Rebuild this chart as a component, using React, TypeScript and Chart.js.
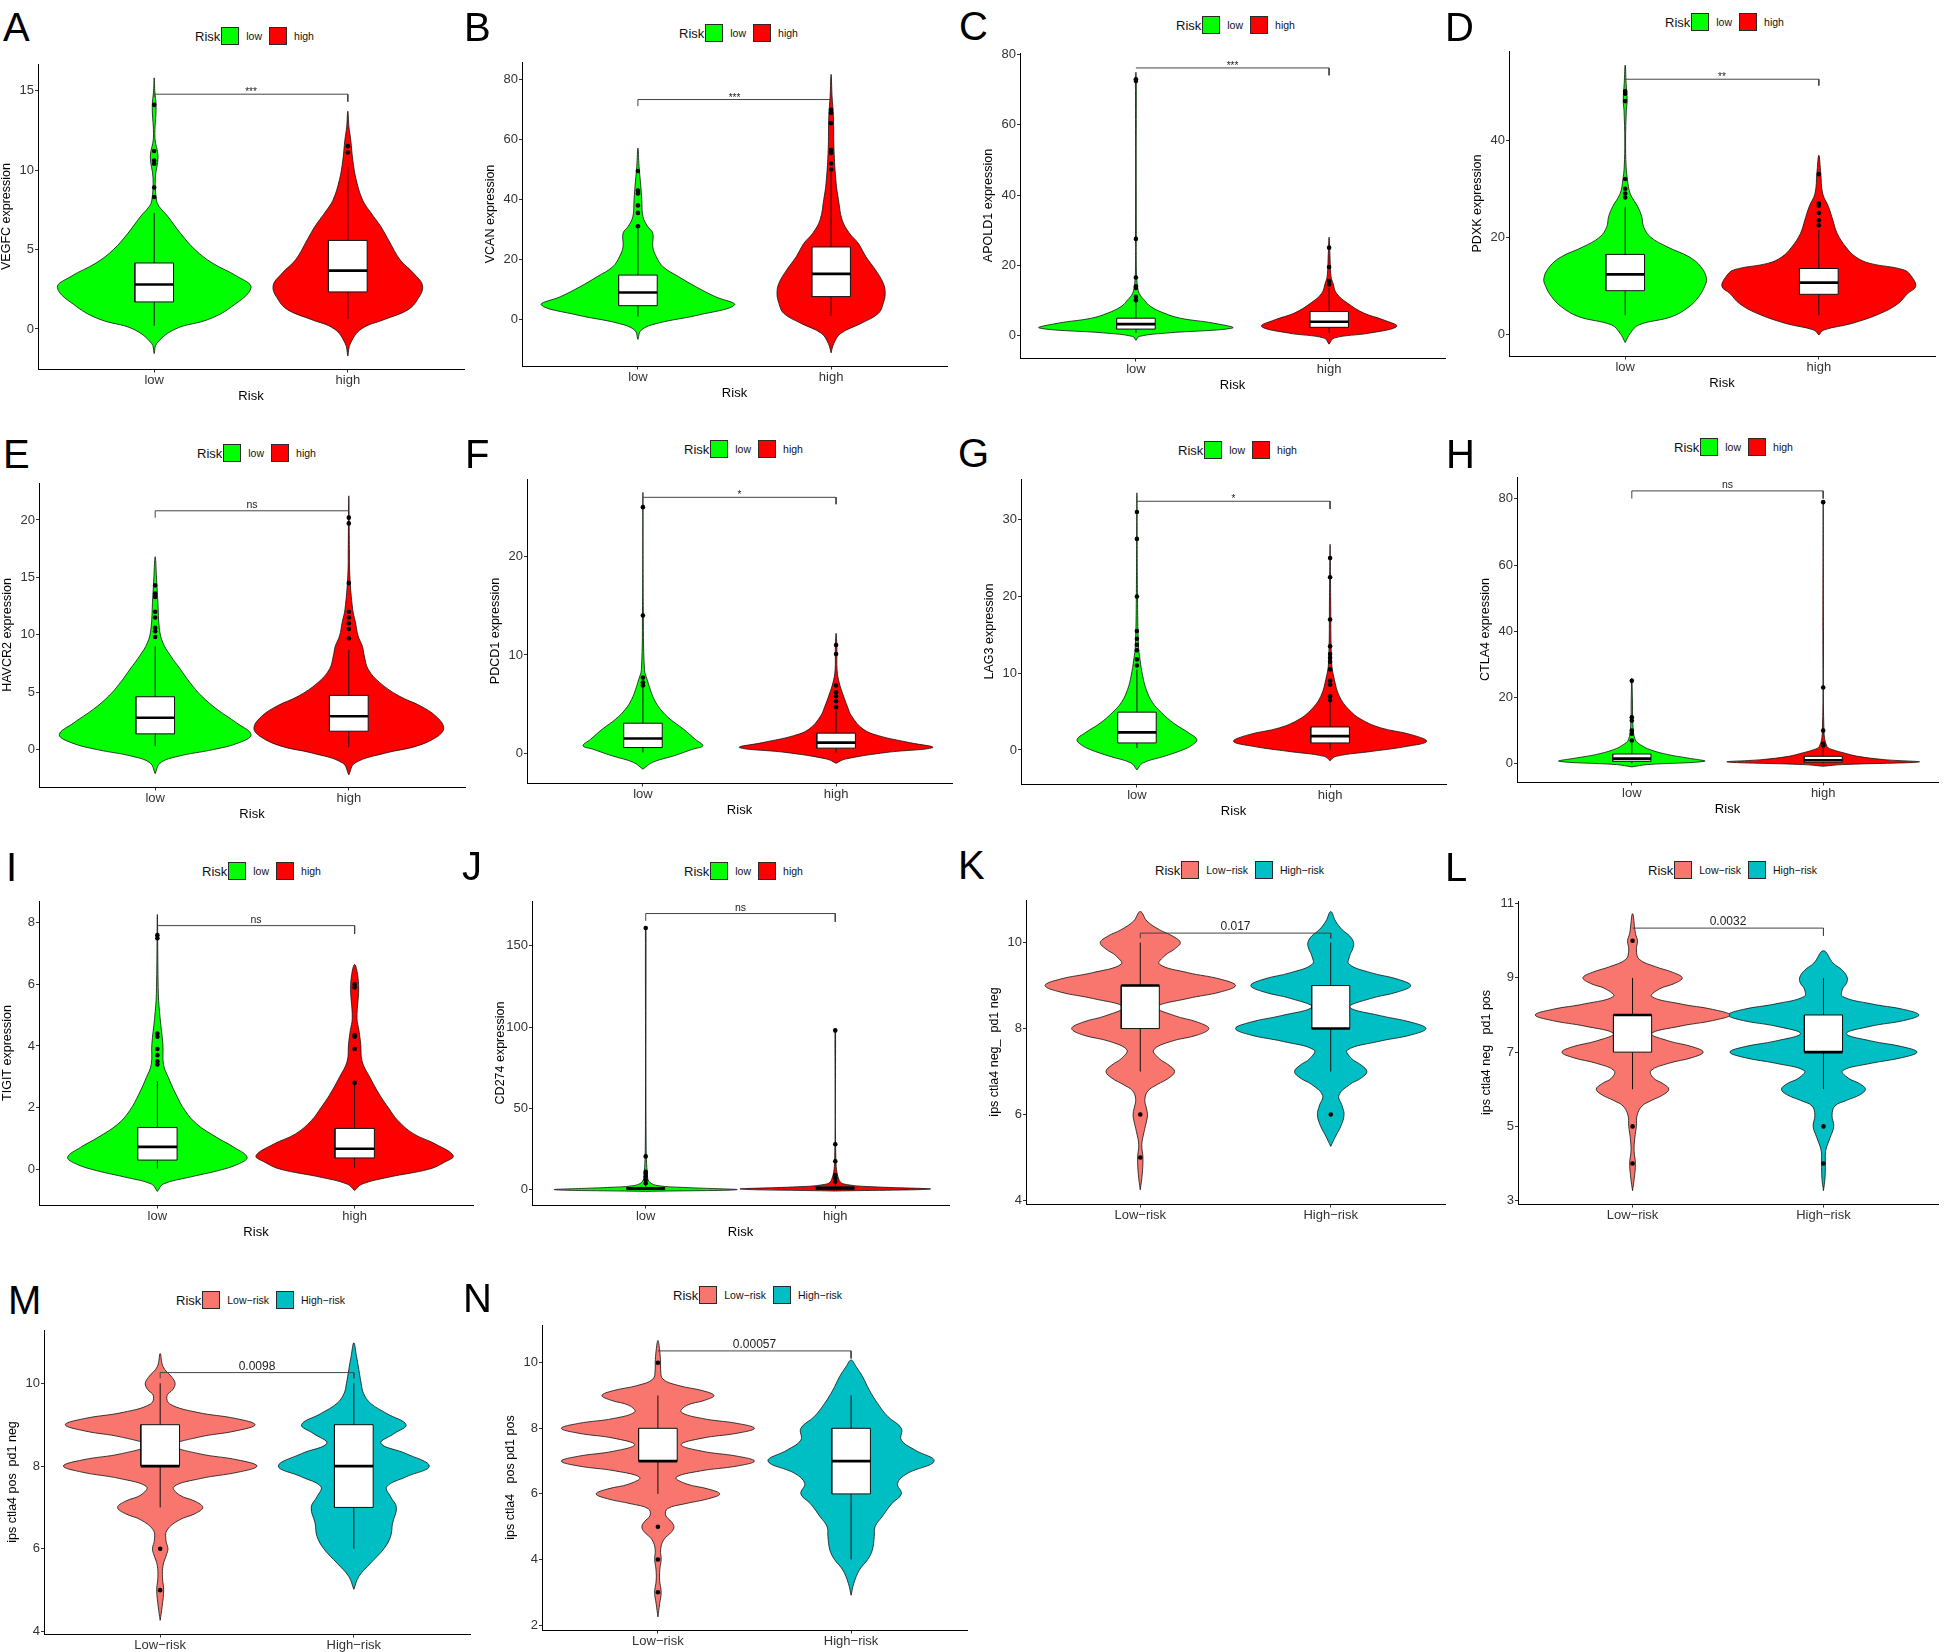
import React, { useEffect, useRef } from 'react';
import { Chart, registerables } from 'chart.js';
Chart.register(...registerables);

const FONT = '"Liberation Sans", Arial, Helvetica, sans-serif';
Chart.defaults.font.family = FONT;

type Prof = [number, number][];
type Box5 = [number, number, number, number, number];

// ---------- categories ----------
const RISK_CATS = ['low', 'high'];
const IPS_CATS = ['Low\u2212risk', 'High\u2212risk'];
const GENE_COLORS: [string, string] = ['#00FF00', '#FF0000'];
const IPS_COLORS: [string, string] = ['#F8766D', '#00BFC4'];

// ---------- violin profiles: [value, half-width in category units] ----------
const A_LOW_VIOLIN: Prof = [[-1.55,0],[-0.9,0.014],[0,0.11],[0.6,0.28],[1.4,0.4],[2.6,0.5],[3.3,0.43],[4.15,0.3],[5,0.21],[6,0.137],[7.1,0.069],[7.7,0.026],[8.1,0.012],[9.5,0.006],[10.85,0.02],[12,0.004],[14,0.01],[15,0.003],[15.8,0]];
const A_HIGH_VIOLIN: Prof = [[-1.7,0],[-0.9,0.014],[0,0.07],[0.6,0.19],[1.2,0.31],[1.85,0.36],[2.7,0.386],[3.5,0.34],[4.35,0.27],[5.6,0.21],[6.45,0.17],[7.3,0.12],[8.1,0.077],[9.4,0.043],[10.6,0.026],[11.9,0.015],[12.7,0.006],[13.7,0]];
const B_LOW_VIOLIN: Prof = [[-6.8,0],[-3.7,0.017],[-1.45,0.1],[1.3,0.31],[4.7,0.5],[7.5,0.4],[10.8,0.3],[14.2,0.21],[17.5,0.13],[20.9,0.095],[24.2,0.077],[28.7,0.077],[31,0.05],[34.3,0.026],[39.9,0.02],[44.4,0.015],[51,0.006],[57.2,0]];
const B_HIGH_VIOLIN: Prof = [[-11.3,0],[-8.2,0.014],[-4.8,0.05],[-1.45,0.155],[1.9,0.245],[5.25,0.27],[8.6,0.28],[12,0.27],[16.4,0.23],[20.9,0.18],[25.4,0.14],[28.7,0.095],[33.2,0.057],[40,0.038],[45.5,0.026],[56.6,0.015],[67.8,0.012],[74.5,0.005],[81.8,0]];
const C_LOW_VIOLIN: Prof = [[-1.4,0],[-0.3,0.017],[0.66,0.155],[2.1,0.5],[3.5,0.4],[4.9,0.23],[6.35,0.146],[8.2,0.077],[10.1,0.043],[12,0.017],[14.9,0.006],[20,0.002],[30,0.002],[50,0.0015],[73,0.002],[75,0]];
const C_HIGH_VIOLIN: Prof = [[-2.5,0],[-0.76,0.026],[0.66,0.21],[2.56,0.35],[4.45,0.28],[6.35,0.18],[9.2,0.095],[12,0.038],[14.9,0.02],[16.8,0.01],[23.4,0.004],[28,0]];
const D_LOW_VIOLIN: Prof = [[-1.6,0],[0.27,0.026],[2,0.07],[3.7,0.24],[5.75,0.33],[7.8,0.38],[9.9,0.41],[11.6,0.42],[14,0.39],[16,0.33],[18,0.22],[20.1,0.13],[22.2,0.095],[24.2,0.086],[26.3,0.065],[29,0.026],[31.8,0.012],[34.5,0.005],[40,0.002],[46,0.006],[48.2,0.01],[51.6,0.005],[55.4,0]];
const D_HIGH_VIOLIN: Prof = [[-0.07,0],[0.96,0.026],[2.3,0.17],[4.4,0.32],[6.4,0.41],[8.5,0.46],[9.9,0.5],[11.9,0.48],[13.3,0.44],[14.7,0.26],[16,0.19],[18,0.14],[20.8,0.095],[23.6,0.072],[26.3,0.05],[29,0.02],[33.2,0.01],[36.9,0]];
const E_LOW_VIOLIN: Prof = [[-2.1,0],[-1.17,0.026],[-0.58,0.12],[0,0.3],[0.58,0.43],[1.3,0.495],[2.33,0.42],[3.5,0.32],[4.66,0.24],[5.83,0.18],[7,0.13],[8.16,0.08],[9.3,0.04],[10.5,0.022],[12.8,0.014],[14.6,0.008],[16.8,0]];
const E_HIGH_VIOLIN: Prof = [[-2.2,0],[-1.17,0.032],[-0.3,0.19],[0.3,0.35],[1.17,0.46],[1.9,0.49],[2.9,0.45],[3.8,0.37],[4.66,0.26],[5.83,0.16],[7,0.1],[8.16,0.08],[9,0.07],[9.9,0.048],[11.1,0.034],[12.2,0.02],[15.2,0.005],[17.5,0.003],[22.1,0]];
const F_LOW_VIOLIN: Prof = [[-1.6,0],[-0.9,0.05],[-0.24,0.16],[0.44,0.26],[0.78,0.31],[1.45,0.27],[2.47,0.21],[3.5,0.14],[4.5,0.09],[5.5,0.058],[6.5,0.038],[7.5,0.022],[8.5,0.008],[15,0.002],[26.5,0]];
const F_HIGH_VIOLIN: Prof = [[-1.0,0],[-0.57,0.048],[0.1,0.26],[0.6,0.5],[1.1,0.38],[1.8,0.22],[2.47,0.14],[3.8,0.08],[4.8,0.058],[5.85,0.038],[7.2,0.016],[8.5,0.005],[10.6,0.004],[12.2,0]];
const G_LOW_VIOLIN: Prof = [[-2.6,0],[-1.7,0.03],[-0.83,0.14],[0.04,0.24],[0.7,0.29],[1.35,0.31],[2.2,0.27],[3.5,0.19],[4.85,0.128],[6.2,0.08],[7.9,0.048],[9.65,0.03],[11.8,0.016],[13.6,0.008],[20,0.003],[33.5,0]];
const G_HIGH_VIOLIN: Prof = [[-1.4,0],[-0.83,0.03],[-0.17,0.22],[0.48,0.4],[1.13,0.5],[2.0,0.42],[2.9,0.26],[4.0,0.16],[5.3,0.096],[7.0,0.048],[9.2,0.022],[11.4,0.008],[20,0.003],[26.8,0]];
const H_LOW_VIOLIN: Prof = [[-1.0,0],[-0.3,0.08],[0.7,0.38],[1.7,0.29],[2.7,0.19],[4.2,0.096],[5.7,0.045],[7.2,0.018],[11.3,0.006],[20,0.003],[25.8,0]];
const H_HIGH_VIOLIN: Prof = [[-0.8,0],[-0.3,0.1],[0.5,0.5],[1.2,0.32],[2.2,0.18],[3.2,0.11],[4.2,0.05],[5.2,0.02],[10,0.004],[40,0.0015],[79,0]];
const I_LOW_VIOLIN: Prof = [[-0.73,0],[-0.49,0.03],[-0.27,0.16],[-0.05,0.31],[0.16,0.41],[0.38,0.455],[0.7,0.39],[1.03,0.3],[1.46,0.2],[1.9,0.14],[2.43,0.094],[2.97,0.056],[3.4,0.031],[4.05,0.028],[4.9,0.014],[5.7,0.005],[8.27,0]];
const I_HIGH_VIOLIN: Prof = [[-0.7,0],[-0.49,0.038],[-0.27,0.17],[0,0.38],[0.22,0.455],[0.43,0.5],[0.81,0.41],[1.14,0.3],[1.57,0.22],[2,0.17],[2.43,0.125],[2.97,0.078],[3.5,0.038],[4.05,0.031],[4.5,0.022],[4.9,0.012],[6,0.02],[6.65,0]];
const J_LOW_VIOLIN: Prof = [[-1,0],[0,0.48],[1.4,0.2],[2.5,0.065],[4.5,0.022],[7.6,0.01],[30,0.002],[161,0.0015],[162,0]];
const J_HIGH_VIOLIN: Prof = [[-0.8,0],[0.4,0.5],[1.8,0.2],[3.1,0.065],[5.5,0.022],[20,0.003],[98,0.0015],[99,0]];
const K_LOW_VIOLIN: Prof = [[4.25,0],[4.6,0.01],[5.0,0.014],[5.3,0.008],[5.6,0.02],[5.85,0.033],[6.0,0.038],[6.15,0.032],[6.35,0.024],[6.55,0.04],[6.7,0.09],[6.85,0.15],[7.0,0.18],[7.15,0.15],[7.3,0.1],[7.5,0.07],[7.7,0.16],[7.85,0.3],[8.0,0.36],[8.15,0.3],[8.3,0.18],[8.5,0.087],[8.7,0.25],[8.85,0.42],[9.0,0.5],[9.15,0.42],[9.3,0.25],[9.5,0.1],[9.7,0.13],[9.85,0.18],[10.0,0.21],[10.15,0.17],[10.3,0.1],[10.5,0.035],[10.72,0]];
const K_HIGH_VIOLIN: Prof = [[5.26,0],[5.5,0.026],[5.75,0.055],[6.0,0.07],[6.2,0.06],[6.45,0.043],[6.7,0.1],[6.85,0.16],[7.0,0.19],[7.15,0.16],[7.3,0.11],[7.5,0.087],[7.7,0.25],[7.85,0.42],[8.0,0.5],[8.15,0.42],[8.3,0.26],[8.5,0.1],[8.7,0.21],[8.85,0.35],[9.0,0.42],[9.15,0.35],[9.3,0.21],[9.5,0.096],[9.7,0.1],[9.85,0.115],[10.0,0.12],[10.15,0.1],[10.3,0.06],[10.5,0.025],[10.72,0]];
const L_LOW_VIOLIN: Prof = [[3.27,0],[3.6,0.009],[4.0,0.015],[4.35,0.008],[4.7,0.012],[5.0,0.02],[5.3,0.024],[5.55,0.05],[5.7,0.1],[5.85,0.16],[6.0,0.19],[6.15,0.16],[6.3,0.11],[6.5,0.096],[6.7,0.19],[6.85,0.31],[7.0,0.37],[7.15,0.31],[7.3,0.19],[7.5,0.1],[7.7,0.25],[7.85,0.42],[8.0,0.51],[8.15,0.42],[8.3,0.25],[8.5,0.1],[8.7,0.14],[8.85,0.22],[9.0,0.26],[9.15,0.21],[9.3,0.12],[9.5,0.035],[9.75,0.02],[10.0,0.026],[10.2,0.015],[10.73,0]];
const L_HIGH_VIOLIN: Prof = [[3.27,0],[3.6,0.008],[4.0,0.01],[4.35,0.012],[4.7,0.035],[5.0,0.054],[5.3,0.045],[5.55,0.06],[5.7,0.12],[5.85,0.19],[6.0,0.22],[6.15,0.19],[6.3,0.13],[6.5,0.1],[6.7,0.25],[6.85,0.41],[7.0,0.49],[7.15,0.41],[7.3,0.25],[7.5,0.12],[7.7,0.25],[7.85,0.42],[8.0,0.5],[8.15,0.42],[8.3,0.25],[8.5,0.1],[8.7,0.1],[8.85,0.12],[9.0,0.125],[9.2,0.1],[9.4,0.05],[9.73,0]];
const M_LOW_VIOLIN: Prof = [[4.27,0],[4.6,0.01],[5.0,0.018],[5.3,0.012],[5.6,0.015],[5.85,0.032],[6.0,0.04],[6.2,0.03],[6.45,0.035],[6.7,0.1],[6.85,0.18],[7.0,0.22],[7.15,0.18],[7.3,0.1],[7.5,0.07],[7.7,0.21],[7.85,0.4],[8.0,0.5],[8.15,0.4],[8.3,0.2],[8.5,0.07],[8.7,0.2],[8.85,0.39],[9.0,0.49],[9.15,0.39],[9.3,0.19],[9.5,0.05],[9.7,0.035],[9.85,0.065],[10.0,0.077],[10.15,0.06],[10.4,0.015],[10.72,0]];
const M_HIGH_VIOLIN: Prof = [[5.02,0],[5.33,0.026],[5.65,0.086],[6.0,0.155],[6.3,0.19],[6.62,0.2],[7.0,0.22],[7.26,0.19],[7.5,0.17],[7.74,0.27],[8.0,0.39],[8.3,0.27],[8.55,0.14],[8.79,0.21],[9.0,0.27],[9.27,0.17],[9.52,0.086],[9.76,0.05],[10.0,0.038],[10.33,0.026],[10.65,0.014],[10.98,0]];
const N_LOW_VIOLIN: Prof = [[2.25,0],[2.65,0.009],[3.0,0.017],[3.35,0.009],[3.7,0.01],[4.0,0.017],[4.3,0.014],[4.6,0.03],[4.85,0.072],[5.0,0.083],[5.15,0.07],[5.35,0.04],[5.55,0.05],[5.7,0.14],[5.85,0.26],[6.0,0.32],[6.15,0.26],[6.3,0.15],[6.5,0.094],[6.7,0.22],[6.85,0.41],[7.0,0.5],[7.15,0.41],[7.3,0.23],[7.5,0.12],[7.7,0.23],[7.85,0.41],[8.0,0.5],[8.15,0.41],[8.3,0.23],[8.5,0.12],[8.7,0.15],[8.85,0.24],[9.0,0.29],[9.15,0.23],[9.3,0.11],[9.5,0.026],[9.8,0.014],[10.0,0.014],[10.38,0.009],[10.68,0]];
const N_HIGH_VIOLIN: Prof = [[2.91,0],[3.27,0.014],[3.68,0.043],[4.0,0.086],[4.29,0.11],[4.7,0.12],[5.0,0.124],[5.3,0.16],[5.7,0.21],[6.0,0.26],[6.32,0.24],[6.62,0.29],[7.0,0.43],[7.34,0.33],[7.64,0.26],[8.0,0.26],[8.36,0.19],[8.76,0.137],[9.17,0.094],[9.57,0.06],[9.88,0.026],[10.08,0]];

// ---------- box stats: [whisker low, Q1, median, Q3, whisker high] ----------
const A_LOW_BOX: Box5 = [0.2, 1.7, 2.8, 4.15, 7.3];
const A_HIGH_BOX: Box5 = [0.6, 2.33, 3.67, 5.57, 10.2];
const B_LOW_BOX: Box5 = [0.8, 4.47, 8.9, 14.7, 30];
const B_HIGH_BOX: Box5 = [1.0, 7.5, 15.1, 24.1, 49];
const C_LOW_BOX: Box5 = [0.66, 1.8, 3.2, 4.9, 9.5];
const C_HIGH_BOX: Box5 = [0.7, 2.3, 3.9, 6.8, 13.6];
const D_LOW_BOX: Box5 = [4.0, 9.04, 12.4, 16.5, 26.3];
const D_HIGH_BOX: Box5 = [4.0, 8.3, 10.7, 13.6, 21.5];
const E_LOW_BOX: Box5 = [0.3, 1.37, 2.77, 4.6, 9.0];
const E_HIGH_BOX: Box5 = [0.2, 1.6, 2.9, 4.72, 8.7];
const F_LOW_BOX: Box5 = [0.1, 0.6, 1.52, 3.07, 6.7];
const F_HIGH_BOX: Box5 = [0.1, 0.54, 1.1, 2.06, 4.4];
const G_LOW_BOX: Box5 = [0.26, 0.92, 2.3, 4.93, 10.5];
const G_HIGH_BOX: Box5 = [0.04, 0.92, 1.8, 3.0, 6.2];
const H_LOW_BOX: Box5 = [0, 0.7, 1.5, 2.9, 6.2];
const H_HIGH_BOX: Box5 = [0, 0.4, 1.0, 2.2, 4.8];
const I_LOW_BOX: Box5 = [0.02, 0.29, 0.72, 1.35, 2.86];
const I_HIGH_BOX: Box5 = [0.03, 0.36, 0.66, 1.32, 2.76];
const J_LOW_BOX: Box5 = [0, 0.2, 0.8, 1.4, 3.5];
const J_HIGH_BOX: Box5 = [0, 0.2, 1.0, 1.8, 4.5];
const K_LOW_BOX: Box5 = [7, 8, 9, 9, 10];
const K_HIGH_BOX: Box5 = [7, 8, 8, 9, 10];
const L_LOW_BOX: Box5 = [6, 7, 8, 8, 9];
const L_HIGH_BOX: Box5 = [6, 7, 7, 8, 9];
const M_LOW_BOX: Box5 = [7, 8, 8, 9, 10];
const M_HIGH_BOX: Box5 = [6, 7, 8, 9, 10];
const N_LOW_BOX: Box5 = [6, 7, 7, 8, 9];
const N_HIGH_BOX: Box5 = [4, 6, 7, 8, 9];

// ---------- outliers ----------
const A_LOW_OUT = [8.3, 8.9, 10.4, 10.6, 11.2, 14.1];
const A_HIGH_OUT = [11.1, 11.5];
const B_LOW_OUT = [31, 35.5, 38, 42, 43, 49.5];
const B_HIGH_OUT = [50, 52, 55.5, 56.5, 65.5, 69, 70];
const C_LOW_OUT = [10, 11, 13.5, 14, 16.5, 27.5, 72.5, 73];
const C_HIGH_OUT = [14.5, 15.5, 19.5, 25];
const D_LOW_OUT = [28.2, 29, 30, 32, 48, 49.5, 50];
const D_HIGH_OUT = [22.5, 23.5, 25, 26.5, 27, 33];
const E_LOW_OUT = [9.8, 10.3, 10.6, 11.5, 12, 13.3, 13.6, 14.3];
const E_HIGH_OUT = [9.7, 10.5, 11, 11.5, 12, 14.5, 19.7, 20.2];
const F_LOW_OUT = [6.9, 7.2, 7.7, 14, 25];
const F_HIGH_OUT = [4.7, 5.3, 5.8, 6.2, 6.9, 10.1, 11];
const G_LOW_OUT = [11, 11.8, 13, 13.7, 14.5, 15.5, 20, 27.5, 31];
const G_HIGH_OUT = [6.5, 7, 8.5, 9, 10.5, 11.5, 12, 12.5, 13.5, 17, 22.5, 25];
const H_LOW_OUT = [7, 9, 10, 13, 14, 25];
const H_HIGH_OUT = [5.5, 6, 10, 23, 79];
const I_LOW_OUT = [3.4, 3.5, 3.7, 3.9, 4.3, 4.4, 7.5, 7.6];
const I_HIGH_OUT = [2.8, 3.9, 4.3, 4.35, 5.9, 6];
const J_LOW_OUT = [4, 6, 8, 10, 11, 20.5, 161];
const J_HIGH_OUT = [5, 7, 9, 17.5, 28, 98];
const K_LOW_OUT = [6, 5];
const K_HIGH_OUT = [6];
const L_LOW_OUT = [10, 5, 4];
const L_HIGH_OUT = [5, 4];
const M_LOW_OUT = [6, 5];
const M_HIGH_OUT: number[] = [];
const N_LOW_OUT = [10, 5, 4, 3];
const N_HIGH_OUT: number[] = [];

// ---------- significance brackets: [left end, bar, right end] and labels ----------
const A_BRACKET = [14.6, 14.77, 14.3];
const B_BRACKET = [71.2, 73.4, 73.4];
const C_BRACKET = [76.2, 76.2, 74.1];
const D_BRACKET = [52.5, 52.5, 51.2];
const E_BRACKET = [20.2, 20.8, 20.8];
const F_BRACKET = [26.0, 26.0, 25.3];
const G_BRACKET = [32.4, 32.4, 31.4];
const H_BRACKET = [80.1, 82.4, 80.1];
const I_BRACKET = [7.91, 7.91, 7.64];
const J_BRACKET = [165.4, 169.9, 164.8];
const K_BRACKET = [10.1, 10.22, 10.1];
const L_BRACKET = [10.34, 10.34, 10.13];
const M_BRACKET = [10.12, 10.26, 10.12];
const N_BRACKET = [10.36, 10.36, 10.13];
const SIG_LABELS = ['***', '***', '***', '**', 'ns', '*', '*', 'ns', 'ns', 'ns', '0.017', '0.0032', '0.0098', '0.00057'];

// ---------- axis ticks / ranges / titles ----------
const A_Y_TICKS = [0, 5, 10, 15];
const B_Y_TICKS = [0, 20, 40, 60, 80];
const C_Y_TICKS = [0, 20, 40, 60, 80];
const D_Y_TICKS = [0, 20, 40];
const E_Y_TICKS = [0, 5, 10, 15, 20];
const F_Y_TICKS = [0, 10, 20];
const G_Y_TICKS = [0, 10, 20, 30];
const H_Y_TICKS = [0, 20, 40, 60, 80];
const I_Y_TICKS = [0, 2, 4, 6, 8];
const J_Y_TICKS = [0, 50, 100, 150];
const K_Y_TICKS = [4, 6, 8, 10];
const L_Y_TICKS = [3, 5, 7, 9, 11];
const M_Y_TICKS = [4, 6, 8, 10];
const N_Y_TICKS = [2, 4, 6, 8, 10];
const Y_RANGES: [number, number][] = [
  [-2.52, 16.67], [-15.7, 85.95], [-6.44, 80.46], [-4.38, 58.3],
  [-3.26, 23.22], [-3.0, 27.86], [-4.43, 35.3], [-5.56, 86.6],
  [-1.17, 8.71], [-9.4, 177.6], [3.92, 10.99], [2.91, 11.07],
  [3.94, 11.29], [1.85, 11.15],
];
const Y_TITLES = [
  'VEGFC expression', 'VCAN expression', 'APOLD1 expression', 'PDXK expression',
  'HAVCR2 expression', 'PDCD1 expression', 'LAG3 expression', 'CTLA4 expression',
  'TIGIT expression', 'CD274 expression',
  'ips ctla4 neg_  pd1 neg', 'ips ctla4 neg   pd1 pos', 'ips ctla4 pos  pd1 neg', 'ips ctla4   pos pd1 pos',
];
const LETTERS = ['A', 'B', 'C', 'D', 'E', 'F', 'G', 'H', 'I', 'J', 'K', 'L', 'M', 'N'];

// ---------- layout (page pixels) ----------
const PLOT_BOXES = [
  [38, 64, 466, 369], [522, 62, 949, 366], [1020, 53, 1447, 358], [1509, 51, 1937, 356],
  [39, 483, 467, 787], [527, 479, 954, 783], [1021, 479, 1448, 784], [1517, 477, 1940, 782],
  [39, 901, 475, 1205], [532, 901, 951, 1205], [1026, 900, 1447, 1204], [1518, 901, 1940, 1204],
  [44, 1330, 472, 1634], [542, 1325, 969, 1630],
];
const LETTER_POS = [
  [5, 12], [466, 12], [961, 11], [1447, 12],
  [5, 439], [467, 439], [960, 438], [1448, 439],
  [8, 852], [464, 851], [960, 850], [1447, 852],
  [10, 1285], [465, 1283],
];
const LEGEND_POS = [
  [195, 36], [679, 33], [1176, 25], [1665, 22],
  [197, 453], [684, 449], [1178, 450], [1674, 447],
  [202, 871], [684, 871], [1155, 870], [1648, 870],
  [176, 1300], [673, 1295],
];

const VIOLINS: [Prof, Prof][] = [
  [A_LOW_VIOLIN, A_HIGH_VIOLIN], [B_LOW_VIOLIN, B_HIGH_VIOLIN], [C_LOW_VIOLIN, C_HIGH_VIOLIN], [D_LOW_VIOLIN, D_HIGH_VIOLIN],
  [E_LOW_VIOLIN, E_HIGH_VIOLIN], [F_LOW_VIOLIN, F_HIGH_VIOLIN], [G_LOW_VIOLIN, G_HIGH_VIOLIN], [H_LOW_VIOLIN, H_HIGH_VIOLIN],
  [I_LOW_VIOLIN, I_HIGH_VIOLIN], [J_LOW_VIOLIN, J_HIGH_VIOLIN], [K_LOW_VIOLIN, K_HIGH_VIOLIN], [L_LOW_VIOLIN, L_HIGH_VIOLIN],
  [M_LOW_VIOLIN, M_HIGH_VIOLIN], [N_LOW_VIOLIN, N_HIGH_VIOLIN],
];
const BOXES: [Box5, Box5][] = [
  [A_LOW_BOX, A_HIGH_BOX], [B_LOW_BOX, B_HIGH_BOX], [C_LOW_BOX, C_HIGH_BOX], [D_LOW_BOX, D_HIGH_BOX],
  [E_LOW_BOX, E_HIGH_BOX], [F_LOW_BOX, F_HIGH_BOX], [G_LOW_BOX, G_HIGH_BOX], [H_LOW_BOX, H_HIGH_BOX],
  [I_LOW_BOX, I_HIGH_BOX], [J_LOW_BOX, J_HIGH_BOX], [K_LOW_BOX, K_HIGH_BOX], [L_LOW_BOX, L_HIGH_BOX],
  [M_LOW_BOX, M_HIGH_BOX], [N_LOW_BOX, N_HIGH_BOX],
];
const OUTLIERS: [number[], number[]][] = [
  [A_LOW_OUT, A_HIGH_OUT], [B_LOW_OUT, B_HIGH_OUT], [C_LOW_OUT, C_HIGH_OUT], [D_LOW_OUT, D_HIGH_OUT],
  [E_LOW_OUT, E_HIGH_OUT], [F_LOW_OUT, F_HIGH_OUT], [G_LOW_OUT, G_HIGH_OUT], [H_LOW_OUT, H_HIGH_OUT],
  [I_LOW_OUT, I_HIGH_OUT], [J_LOW_OUT, J_HIGH_OUT], [K_LOW_OUT, K_HIGH_OUT], [L_LOW_OUT, L_HIGH_OUT],
  [M_LOW_OUT, M_HIGH_OUT], [N_LOW_OUT, N_HIGH_OUT],
];
const BRACKETS = [A_BRACKET, B_BRACKET, C_BRACKET, D_BRACKET, E_BRACKET, F_BRACKET, G_BRACKET, H_BRACKET, I_BRACKET, J_BRACKET, K_BRACKET, L_BRACKET, M_BRACKET, N_BRACKET];
const Y_TICKS = [A_Y_TICKS, B_Y_TICKS, C_Y_TICKS, D_Y_TICKS, E_Y_TICKS, F_Y_TICKS, G_Y_TICKS, H_Y_TICKS, I_Y_TICKS, J_Y_TICKS, K_Y_TICKS, L_Y_TICKS, M_Y_TICKS, N_Y_TICKS];

const AX_W = 45;
const AX_H = 45;
const PAD_T = 20;
const PAD_R = 2;
const BOX_HALF = 0.1;

function violinPoints(pos: number, prof: Prof) {
  const right = prof.map(([y, w]) => ({ x: pos + w, y }));
  const left = prof.slice().reverse().map(([y, w]) => ({ x: pos - w, y }));
  return right.concat(left.slice(1));
}

const sigPlugin = {
  id: 'sigLabel',
  afterDatasetsDraw(chart: any, _a: any, opts: any) {
    if (!opts || !opts.text) return;
    const { ctx } = chart;
    const x = chart.scales.x.getPixelForValue(1.5);
    const yb = chart.scales.y.getPixelForValue(opts.y);
    const isStar = /^\*+$/.test(opts.text);
    ctx.save();
    ctx.font = `${isStar ? 10 : opts.text === 'ns' ? 10.5 : 12}px ${FONT}`;
    ctx.fillStyle = '#222';
    ctx.textAlign = 'center';
    ctx.textBaseline = 'alphabetic';
    ctx.fillText(opts.text, x, isStar ? yb + 1 : yb - 3);
    ctx.restore();
  },
};

function buildDatasets(i: number) {
  const ipsPanel = i >= 10;
  const colors = ipsPanel ? IPS_COLORS : GENE_COLORS;
  const ds: any[] = [];
  [0, 1].forEach((g) => {
    const pos = g + 1;
    const [lo, q1, med, q3, hi] = BOXES[i][g];
    ds.push({
      data: violinPoints(pos, VIOLINS[i][g]),
      borderColor: '#111', borderWidth: 0.8, backgroundColor: colors[g],
      fill: 'shape', tension: 0.4, pointRadius: 0, order: 6,
    });
    ds.push({
      data: [{ x: pos, y: lo }, { x: pos, y: hi }],
      borderColor: '#111', borderWidth: 1, fill: false, tension: 0, pointRadius: 0, order: 5,
    });
    ds.push({
      data: [
        { x: pos - BOX_HALF, y: q1 }, { x: pos + BOX_HALF, y: q1 }, { x: pos + BOX_HALF, y: q3 },
        { x: pos - BOX_HALF, y: q3 }, { x: pos - BOX_HALF, y: q1 },
      ],
      borderColor: '#111', borderWidth: 1, backgroundColor: '#FFFFFF', fill: 'shape', tension: 0, pointRadius: 0, order: 4,
    });
    ds.push({
      data: [{ x: pos - BOX_HALF, y: med }, { x: pos + BOX_HALF, y: med }],
      borderColor: '#000', borderWidth: 2.6, fill: false, tension: 0, pointRadius: 0, order: 3,
    });
    ds.push({
      data: OUTLIERS[i][g].map((v) => ({ x: pos, y: v })),
      showLine: false, pointRadius: 2.3, pointBackgroundColor: '#000', pointBorderWidth: 0, order: 2,
    });
  });
  const [bl, bar, br] = BRACKETS[i];
  ds.push({
    data: [{ x: 1, y: bl }, { x: 1, y: bar }, { x: 2, y: bar }, { x: 2, y: br }],
    borderColor: '#444', borderWidth: 1, fill: false, tension: 0, pointRadius: 0, order: 1,
  });
  return ds;
}

function PanelChart({ i }: { i: number }) {
  const ref = useRef<HTMLCanvasElement | null>(null);
  const [L, T, R, B] = PLOT_BOXES[i];
  const w = R - L + AX_W + PAD_R;
  const h = B - T + PAD_T + AX_H;
  const ipsPanel = i >= 10;
  const cats = ipsPanel ? IPS_CATS : RISK_CATS;

  useEffect(() => {
    if (!ref.current) return;
    const yTicks = Y_TICKS[i];
    const chart = new Chart(ref.current, {
      type: 'line',
      data: { datasets: buildDatasets(i) },
      options: {
        animation: false,
        responsive: false,
        events: [],
        layout: { padding: { left: 0, top: PAD_T, right: PAD_R, bottom: 0 } },
        elements: { point: { radius: 0 } },
        plugins: {
          legend: { display: false },
          tooltip: { enabled: false },
          sigLabel: { text: SIG_LABELS[i], y: BRACKETS[i][1] },
        } as any,
        scales: {
          x: {
            type: 'linear', min: 0.4, max: 2.6,
            afterBuildTicks: (s: any) => { s.ticks = [{ value: 1 }, { value: 2 }]; },
            afterFit: (s: any) => { s.height = AX_H; },
            ticks: {
              callback: (v: any) => cats[Math.round(Number(v)) - 1] ?? '',
              color: '#333', font: { size: 13, family: FONT }, padding: 0, autoSkip: false, maxRotation: 0,
            },
            grid: { drawOnChartArea: false, drawTicks: true, tickLength: 3.5, color: '#333' },
            border: { display: true, color: '#000', width: 1 },
            title: {
              display: !ipsPanel, text: 'Risk', color: '#000', font: { size: 13, family: FONT },
              padding: { top: 0, bottom: 10 },
            },
          },
          y: {
            type: 'linear', min: Y_RANGES[i][0], max: Y_RANGES[i][1],
            afterBuildTicks: (s: any) => { s.ticks = yTicks.map((v) => ({ value: v })); },
            afterFit: (s: any) => { s.width = AX_W; },
            ticks: { color: '#333', font: { size: 13, family: FONT }, padding: 1 },
            grid: { drawOnChartArea: false, drawTicks: true, tickLength: 3, color: '#333' },
            border: { display: true, color: '#000', width: 1 },
            title: {
              display: true, text: Y_TITLES[i], color: '#000', font: { size: 12.5, family: FONT },
              padding: { top: 6.5, bottom: 0 },
            },
          },
        },
      } as any,
      plugins: [sigPlugin as any],
    });
    return () => chart.destroy();
  }, [i]);

  return (
    <canvas
      ref={ref}
      width={w}
      height={h}
      style={{ position: 'absolute', left: L - AX_W, top: T - PAD_T, width: w, height: h }}
    />
  );
}

function Legend({ i }: { i: number }) {
  const ipsPanel = i >= 10;
  const cats = ipsPanel ? IPS_CATS : RISK_CATS;
  const colors = ipsPanel ? IPS_COLORS : GENE_COLORS;
  const [x, cy] = LEGEND_POS[i];
  const sw = (c: string) => (
    <span style={{ display: 'inline-block', width: 18, height: 18, boxSizing: 'border-box', border: '1.3px solid #2a2a2a', background: c }} />
  );
  return (
    <div style={{ position: 'absolute', left: x, top: cy - 10, height: 20, display: 'flex', alignItems: 'center', fontFamily: FONT, color: '#111', whiteSpace: 'nowrap' }}>
      <span style={{ fontSize: 13, marginRight: 1 }}>Risk</span>
      {sw(colors[0])}
      <span style={{ fontSize: 10.5, marginLeft: 7, marginRight: 7 }}>{cats[0]}</span>
      {sw(colors[1])}
      <span style={{ fontSize: 10.5, marginLeft: 7 }}>{cats[1]}</span>
    </div>
  );
}

export default function App() {
  return (
    <div style={{ position: 'absolute', left: 0, top: 0, width: 1946, height: 1652, overflow: 'hidden', background: '#fff', fontFamily: FONT }}>
      {LETTERS.map((letter, i) => (
        <React.Fragment key={letter}>
          <div style={{ position: 'absolute', left: LETTER_POS[i][0] - 2, top: LETTER_POS[i][1] - 5, fontSize: 40, lineHeight: '40px', color: '#000', fontFamily: FONT }}>
            {letter}
          </div>
          <Legend i={i} />
          <PanelChart i={i} />
        </React.Fragment>
      ))}
    </div>
  );
}
